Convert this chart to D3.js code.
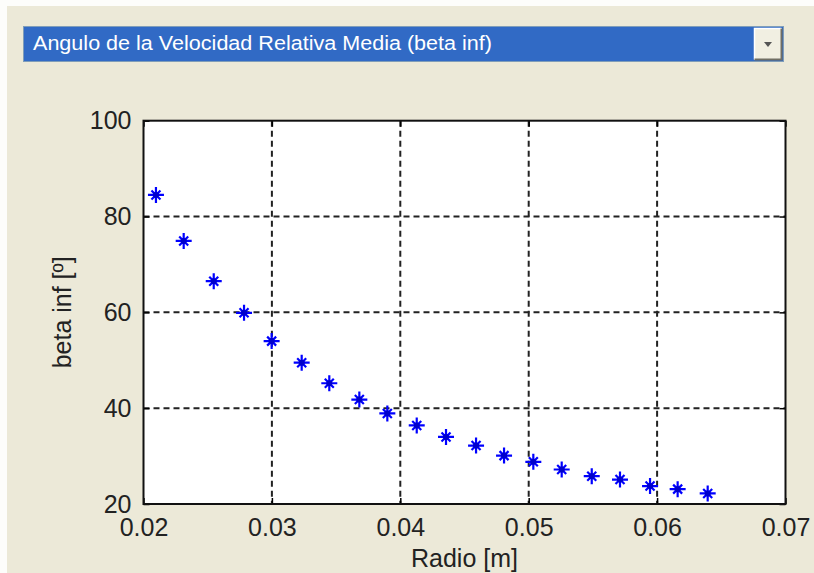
<!DOCTYPE html>
<html>
<head>
<meta charset="utf-8">
<script src="https://d3js.org/d3.v7.min.js"></script>
<style>
  body { margin: 0; background: #ECE9D8; }
  svg { display: block; }
</style>
</head>
<body>
<div id="my_dataviz"></div>
<script>

// data
var radio = [0.02097, 0.02313, 0.02547, 0.02783, 0.02998, 0.03232, 0.03447, 0.03681, 0.03899, 0.04128,
             0.04356, 0.04590, 0.04808, 0.05036, 0.05257, 0.05491, 0.05711, 0.05945, 0.06160, 0.06394];
var betaInf = [84.5, 74.9, 66.5, 59.9, 54.0, 49.5, 45.2, 41.8, 38.9, 36.4,
               34.0, 32.2, 30.1, 28.8, 27.2, 25.8, 25.1, 23.75, 23.1, 22.2];
var xTicks = [0.02, 0.03, 0.04, 0.05, 0.06, 0.07];
var yTicks = [20, 40, 60, 80, 100];
var menuLabel = "Angulo de la Velocidad Relativa Media (beta inf)";
var xLabel = "Radio [m]";
var yLabel = "beta inf [º]";

var W = 814, H = 573;
var margin = {top: 120.7, right: 28.5, bottom: 69, left: 143.5},
    width = W - margin.left - margin.right,
    height = H - margin.top - margin.bottom;

var root = d3.select("#my_dataviz")
  .append("svg")
    .attr("width", W)
    .attr("height", H);

// window background with the light edge
root.append("rect").attr("width", W).attr("height", H).attr("fill", "#ECE9D8");
root.append("rect").attr("width", W).attr("height", 6).attr("fill", "#FDFDFB");
root.append("rect").attr("width", 7).attr("height", H).attr("fill", "#FDFDFB");

// popup menu at the top
var menu = root.append("g");
menu.append("rect")
    .attr("x", 23.5).attr("y", 26.5).attr("width", 760).attr("height", 35)
    .attr("fill", "#316AC5").attr("stroke", "#7F9DB9");
menu.append("text")
    .attr("x", 33).attr("y", 50)
    .attr("fill", "white")
    .attr("textLength", 459)
    .attr("lengthAdjust", "spacingAndGlyphs")
    .style("font-family", "Liberation Sans, Arial, sans-serif")
    .style("font-size", "20px")
    .text(menuLabel);
menu.append("rect")
    .attr("x", 754).attr("y", 28).attr("width", 28).attr("height", 32)
    .attr("fill", "#F1EFE2");
menu.append("path")
    .attr("d", "M754.5,59.5V28.5H781.5")
    .attr("fill", "none").attr("stroke", "#FFFFFF").attr("stroke-width", 1.5);
menu.append("path")
    .attr("d", "M754.5,59.5H781.5V28.5")
    .attr("fill", "none").attr("stroke", "#716F64").attr("stroke-width", 2);
menu.append("path")
    .attr("d", "M764,42H772L768,47Z")
    .attr("fill", "#555");

var svg = root.append("g")
    .attr("transform", "translate(" + margin.left + "," + margin.top + ")");

var x = d3.scaleLinear().domain([0.02, 0.07]).range([0, width]);
var y = d3.scaleLinear().domain([20, 100]).range([height, 0]);

svg.append("rect")
    .attr("width", width).attr("height", height)
    .attr("fill", "white");

// dashed grid
svg.append("g")
  .selectAll("line")
  .data(xTicks.slice(1, -1))
  .enter()
  .append("line")
    .attr("x1", function(d) { return x(d); })
    .attr("x2", function(d) { return x(d); })
    .attr("y1", 0).attr("y2", height)
    .attr("stroke", "#222").attr("stroke-width", 2)
    .attr("stroke-dasharray", "6,4");

svg.append("g")
  .selectAll("line")
  .data(yTicks.slice(1, -1))
  .enter()
  .append("line")
    .attr("y1", function(d) { return y(d); })
    .attr("y2", function(d) { return y(d); })
    .attr("x1", 0).attr("x2", width)
    .attr("stroke", "#222").attr("stroke-width", 2)
    .attr("stroke-dasharray", "6,4");

// axes, ticks pointing inward like matlab
var fontFam = "Liberation Sans, Arial, sans-serif";

var xAxis = svg.append("g")
    .attr("transform", "translate(0," + height + ")")
    .call(d3.axisBottom(x).tickValues(xTicks).tickSize(-6).tickPadding(14)
      .tickFormat(d3.format(".2f")));
var xTop = svg.append("g")
    .call(d3.axisTop(x).tickValues(xTicks).tickSize(-6).tickFormat(""));
var yAxis = svg.append("g")
    .call(d3.axisLeft(y).tickValues(yTicks).tickSize(-6).tickPadding(12)
      .tickFormat(d3.format("d")));
var yRight = svg.append("g")
    .attr("transform", "translate(" + width + ",0)")
    .call(d3.axisRight(y).tickValues(yTicks).tickSize(-6).tickFormat(""));

[xAxis, xTop, yAxis, yRight].forEach(function(a) {
  a.select(".domain").remove();
  a.selectAll("line").attr("stroke", "#000").attr("stroke-width", 1.5);
  a.selectAll("text")
    .attr("fill", "#222")
    .style("font-family", fontFam)
    .style("font-size", "25px");
});
xAxis.selectAll("text").attr("dy", "0.71em");
yAxis.selectAll("text").attr("dy", "0.32em");

svg.append("rect")
    .attr("width", width).attr("height", height)
    .attr("fill", "none").attr("stroke", "#111").attr("stroke-width", 2);

// star markers
var star = "M-8,0H8M0,-8V8M-4.5,-4.5L4.5,4.5M-4.5,4.5L4.5,-4.5";
var pts = svg.append("g")
  .selectAll("g")
  .data(radio.map(function(r, i) { return [r, betaInf[i]]; }))
  .enter()
  .append("g")
    .attr("transform", function(d) { return "translate(" + x(d[0]) + "," + y(d[1]) + ")"; });
pts.append("path")
    .attr("d", star)
    .attr("fill", "none")
    .attr("stroke", "#0000FF")
    .attr("stroke-width", 2.2);
pts.append("circle")
    .attr("r", 3)
    .attr("fill", "#0000CC");

// axis labels
root.append("text")
    .attr("x", margin.left + width / 2).attr("y", 567)
    .attr("text-anchor", "middle")
    .attr("fill", "#222")
    .style("font-family", fontFam).style("font-size", "25px")
    .text(xLabel);

root.append("text")
    .attr("transform", "translate(71," + (margin.top + height / 2) + ")rotate(-90)")
    .attr("text-anchor", "middle")
    .attr("fill", "#222")
    .style("font-family", fontFam).style("font-size", "25px")
    .text(yLabel);

</script>
</body>
</html>
